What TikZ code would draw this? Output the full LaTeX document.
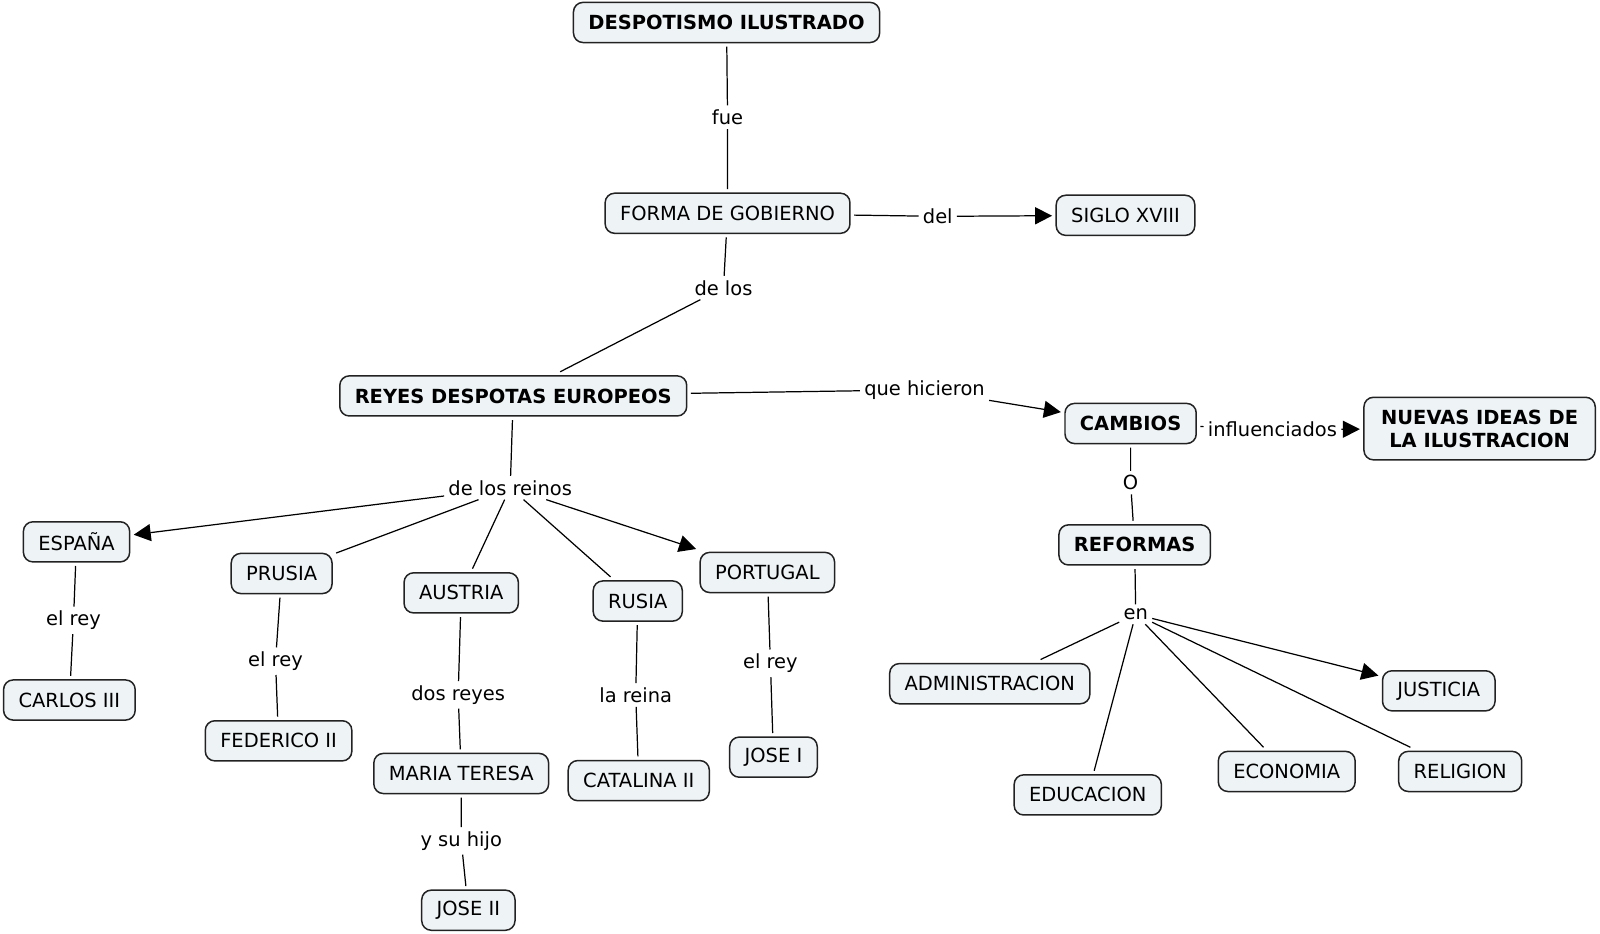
\documentclass[tikz,border=0pt]{standalone}
\usepackage{fontspec}
\setmainfont{DejaVu Sans}
\usepackage{xcolor}
\usetikzlibrary{arrows.meta}
\definecolor{cajafondo}{HTML}{EEF3F6}
\definecolor{borde}{HTML}{222222}

\begin{document}
\begin{tikzpicture}[x=0.75pt, y=-0.75pt,
    concepto/.style={draw=borde, line width=1.1pt, rectangle, rounded corners=7pt, fill=cajafondo,
        minimum height=29.5pt, inner xsep=11pt, outer sep=3pt, font=\fontsize{14.3}{17}\selectfont},
    clave/.style={concepto, font=\fontsize{14.3}{17}\selectfont\bfseries},
    enlace/.style={inner sep=3pt, font=\fontsize{14.3}{17}\selectfont},
    linea/.style={draw=black, line width=0.9pt},
    flecha/.style={linea, -{Triangle[length=12.5pt, width=12.5pt]}}]
    \useasboundingbox (0,0) rectangle (1568,915);

    % conceptos
    \node[clave] (despotismo) at (712,22) {DESPOTISMO ILUSTRADO};
    \node[concepto] (forma) at (713,209) {FORMA DE GOBIERNO};
    \node[concepto] (siglo) at (1103,211) {SIGLO XVIII};
    \node[clave] (reyes) at (503,388) {REYES DESPOTAS EUROPEOS};
    \node[clave] (cambios) at (1108,415) {CAMBIOS};
    \node[clave, align=center, minimum height=46pt, minimum width=170pt] (ideas) at (1450,420) {NUEVAS IDEAS DE\\LA ILUSTRACION};
    \node[clave] (reformas) at (1112,534) {REFORMAS};

    \node[concepto] (espana) at (75,531) {ESPAÑA};
    \node[concepto] (prusia) at (276,562) {PRUSIA};
    \node[concepto] (austria) at (452,581) {AUSTRIA};
    \node[concepto] (rusia) at (625,589) {RUSIA};
    \node[concepto] (portugal) at (752,561) {PORTUGAL};
    \node[concepto] (carlos) at (68,686) {CARLOS III};
    \node[concepto] (federico) at (273,726) {FEDERICO II};
    \node[concepto] (maria) at (452,758) {MARIA TERESA};
    \node[concepto] (catalina) at (626,765) {CATALINA II};
    \node[concepto] (josei) at (758,742) {JOSE I};
    \node[concepto] (joseii) at (459,892) {JOSE II};

    \node[concepto] (admin) at (970,670) {ADMINISTRACION};
    \node[concepto] (educacion) at (1066,779) {EDUCACION};
    \node[concepto] (economia) at (1261,756) {ECONOMIA};
    \node[concepto] (religion) at (1431,756) {RELIGION};
    \node[concepto] (justicia) at (1410,677) {JUSTICIA};

    % palabras de enlace
    \node[enlace] (fue) at (713,115) {fue};
    \node[enlace] (del) at (919,212) {del};
    \node[enlace] (delos) at (709,282) {de los};
    \node[enlace] (hicieron) at (906,382) {que hicieron};
    \node[enlace] (influ) at (1247,421) {influenciados};
    \node[enlace] (o) at (1108,473) {O};
    \node[enlace] (reinos) at (500,478) {de los reinos};
    \node[enlace] (en) at (1113,602) {en};
    \node[enlace] (reyesp) at (72,608) {el rey};
    \node[enlace] (reypr) at (270,648) {el rey};
    \node[enlace] (dosreyes) at (449,681) {dos reyes};
    \node[enlace] (hijo) at (452,824) {y su hijo};
    \node[enlace] (reina) at (623,681) {la reina};
    \node[enlace] (reypo) at (755,650) {el rey};

    \draw[linea] (despotismo) -- (fue) -- (forma);
    \draw[flecha] (forma) -- (del) -- (siglo);
    \draw[linea] (forma) -- (delos) -- (reyes);
    \draw[flecha] (reyes) -- (hicieron) -- (cambios);
    \draw[flecha] (cambios) -- (influ) -- (ideas);
    \draw[linea] (cambios) -- (o) -- (reformas);

    \draw[linea] (reyes) -- (reinos);
    \draw[flecha] (reinos) -- (espana);
    \draw[linea] (reinos) -- (prusia);
    \draw[linea] (reinos) -- (austria);
    \draw[linea] (reinos) -- (rusia);
    \draw[flecha] (reinos) -- (portugal);

    \draw[linea] (espana) -- (reyesp) -- (carlos);
    \draw[linea] (prusia) -- (reypr) -- (federico);
    \draw[linea] (austria) -- (dosreyes) -- (maria);
    \draw[linea] (maria) -- (hijo) -- (joseii);
    \draw[linea] (rusia) -- (reina) -- (catalina);
    \draw[linea] (portugal) -- (reypo) -- (josei);

    \draw[linea] (reformas) -- (en);
    \draw[linea] (en) -- (admin);
    \draw[linea] (en) -- (educacion);
    \draw[linea] (en) -- (economia);
    \draw[linea] (en) -- (religion);
    \draw[flecha] (en) -- (justicia);
\end{tikzpicture}
\end{document}
